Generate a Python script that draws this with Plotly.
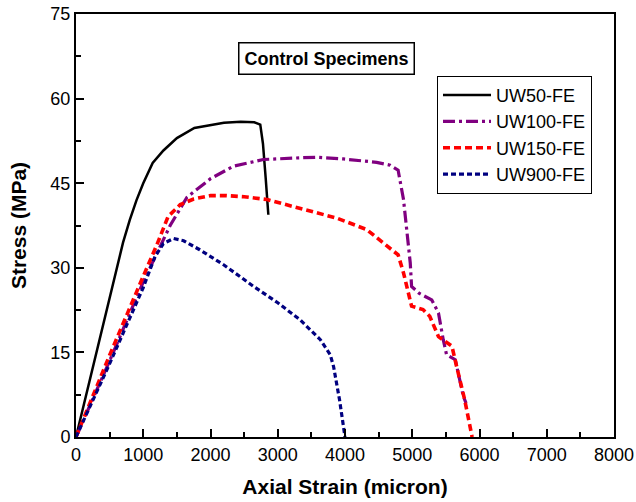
import plotly.graph_objects as go

# UW50-FE
uw50_x = [0, 300, 600, 700, 800, 900, 1000, 1140, 1300, 1500, 1760, 2000, 2200, 2450, 2650, 2740, 2780, 2820, 2860]
uw50_y = [0, 15, 29.5, 34.5, 38.5, 42, 45, 48.6, 50.8, 53, 54.8, 55.3, 55.7, 55.9, 55.8, 55.4, 52, 46, 39.4]

# UW100-FE
uw100_x = [0, 500, 1000, 1200, 1400, 1650, 2000, 2340, 2785, 3330, 3580, 3975, 4470, 4670, 4790, 4870, 4940, 4970, 4990, 5100, 5290, 5390, 5460, 5510, 5640, 5760, 5800]
uw100_y = [0, 13.5, 27.5, 32.5, 37.5, 42.5, 45.8, 48, 49.2, 49.5, 49.6, 49.3, 48.7, 48.2, 47.3, 42.1, 35, 30.9, 26.7, 25.5, 24.3, 22, 17.3, 14.6, 13.7, 7.2, 6]

# UW150-FE
uw150_x = [0, 500, 1000, 1200, 1370, 1550, 1750, 2000, 2240, 2500, 2840, 3330, 3580, 3880, 4320, 4570, 4790, 4870, 4940, 4990, 5160, 5260, 5390, 5490, 5590, 5660, 5780, 5890]
uw150_y = [0, 14.5, 28.5, 34, 39.1, 41.2, 42.2, 42.8, 42.8, 42.6, 42.1, 40.6, 39.7, 38.8, 36.8, 34.4, 32.3, 29.1, 25.5, 23.2, 22.6, 21.4, 17.8, 17, 16.1, 12.5, 6.6, 0]

# UW900-FE
uw900_x = [0, 500, 1000, 1175, 1300, 1450, 1600, 1840, 2200, 2640, 3000, 3330, 3630, 3680, 3780, 3830, 3920, 4000]
uw900_y = [0, 13, 26.5, 32, 34.3, 35.2, 34.8, 33.2, 30.5, 26.7, 23.8, 20.8, 17.3, 16.4, 14.6, 12.5, 6.5, 0]

x_ticks = [0, 1000, 2000, 3000, 4000, 5000, 6000, 7000, 8000]
y_ticks = [0, 15, 30, 45, 60, 75]

font = "Liberation Sans, Arial, sans-serif"

fig = go.Figure()
fig.add_trace(go.Scatter(x=uw50_x, y=uw50_y, mode="lines", name="UW50-FE",
                         line=dict(color="black", width=2.5)))
fig.add_trace(go.Scatter(x=uw100_x, y=uw100_y, mode="lines", name="UW100-FE",
                         line=dict(color="#800080", width=3.2, dash="12px,4px,3px,4px")))
fig.add_trace(go.Scatter(x=uw150_x, y=uw150_y, mode="lines", name="UW150-FE",
                         line=dict(color="#FF0000", width=3.6, dash="7px,4px")))
fig.add_trace(go.Scatter(x=uw900_x, y=uw900_y, mode="lines", name="UW900-FE",
                         line=dict(color="#000080", width=3.2, dash="5px,3px")))

axis_common = dict(showline=True, linecolor="black", linewidth=2, mirror=True,
                   showgrid=False, zeroline=False, ticks="inside", ticklen=8,
                   tickwidth=1.5, tickcolor="black", automargin=False,
                   tickfont=dict(family=font, size=18, color="black"))

fig.update_xaxes(range=[0, 8000], tickvals=x_ticks,
                 minor=dict(dtick=500, ticks="inside", ticklen=5, tickwidth=1.5, tickcolor="black"),
                 title=dict(text="<b>Axial Strain (micron)</b>", font=dict(family=font, size=21, color="black"), standoff=16),
                 **axis_common)
fig.update_yaxes(range=[0, 75], tickvals=y_ticks,
                 minor=dict(dtick=7.5, ticks="inside", ticklen=5, tickwidth=1.5, tickcolor="black"),
                 title=dict(text="<b>Stress (MPa)</b>", font=dict(family=font, size=21, color="black"), standoff=18),
                 **axis_common)

fig.add_annotation(x=0.465, y=0.934, xref="paper", yref="paper",
                   text="<b>Control Specimens</b>", showarrow=False,
                   font=dict(family=font, size=18, color="black"),
                   bordercolor="black", borderwidth=1.5, borderpad=5, bgcolor="white")

fig.update_layout(
    width=636, height=502,
    margin=dict(l=76, r=22, t=14, b=65),
    plot_bgcolor="white", paper_bgcolor="white",
    showlegend=True,
    legend=dict(x=0.671, y=0.854, xanchor="left", yanchor="top",
                bordercolor="black", borderwidth=1, bgcolor="white",
                font=dict(family=font, size=18, color="black"),
                tracegroupgap=0, itemwidth=48),
    font=dict(family=font),
)

fig.write_html("out.html")
